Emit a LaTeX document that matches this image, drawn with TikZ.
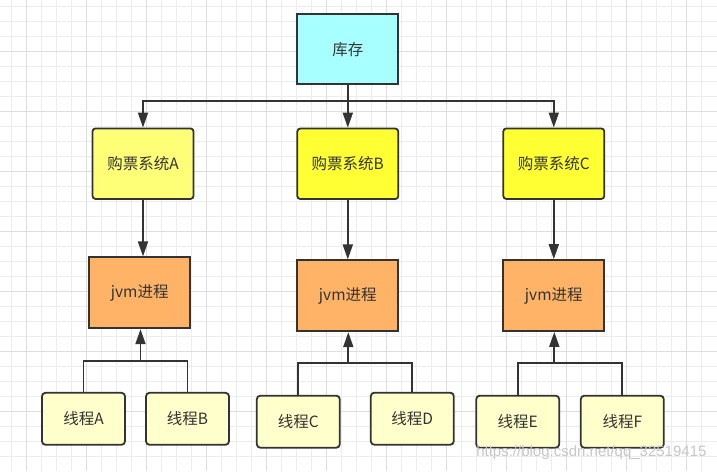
\documentclass[tikz,border=0pt]{standalone}
\usepackage{fontspec}
\setmainfont{Noto Sans CJK SC}
\usetikzlibrary{arrows.meta}
\definecolor{kccyan}{HTML}{A8FFFF}
\definecolor{gpyellowA}{HTML}{FFFF77}
\definecolor{gpyellow}{HTML}{FFFF33}
\definecolor{jvmorange}{HTML}{FFB366}
\definecolor{xccream}{HTML}{FFFFCC}
\definecolor{linegray}{HTML}{333333}
\tikzset{
  box/.style={draw=linegray,line width=1.8pt,text=linegray,
    font=\fontsize{15.5}{18}\selectfont,inner sep=0pt},
  kcbox/.style={box,fill=kccyan,minimum width=101pt,minimum height=70pt},
  gpbox/.style={box,fill=gpyellow,rounded corners=3pt,minimum width=101pt,minimum height=70.5pt},
  jvmbox/.style={box,fill=jvmorange,minimum width=101pt,minimum height=71pt},
  xcbox/.style={box,fill=xccream,rounded corners=3.5pt,minimum width=83pt,minimum height=52pt},
  conn/.style={draw=linegray,line width=1.8pt},
  minor/.style={draw=black!7,line width=0.8pt},
  major/.style={draw=black!13,line width=0.8pt}
}
\begin{document}
\begin{tikzpicture}[x=1pt,y=-1pt,>={Triangle[width=10pt,length=15pt]}]
  \useasboundingbox[fill=white] (0,0) rectangle (717,471);
  % grid
  \foreach \x in {11.7,26.7,...,716} \draw[minor] (\x,0) -- (\x,471);
  \foreach \y in {6.7,21.7,...,470} \draw[minor] (0,\y) -- (717,\y);
  \foreach \x in {26.7,86.7,...,716} \draw[major] (\x,0) -- (\x,471);
  \foreach \y in {51.7,111.7,...,470} \draw[major] (0,\y) -- (717,\y);

  \node[kcbox] (kc) at (347.8,49.2) {库存};

  \node[gpbox,fill=gpyellowA] (gpA) at (143,163.7) {购票系统A};
  \node[gpbox] (gpB) at (347.8,163.8) {购票系统B};
  \node[gpbox] (gpC) at (553.8,163.7) {购票系统C};

  \node[jvmbox] (jvmA) at (139.7,292.8) {jvm进程};
  \node[jvmbox] (jvmB) at (347.8,295.8) {jvm进程};
  \node[jvmbox] (jvmC) at (553.8,295.5) {jvm进程};

  \node[xcbox] (xcA) at (83.5,418.8) {线程A};
  \node[xcbox] (xcB) at (187.5,418.8) {线程B};
  \node[xcbox] (xcC) at (298.3,421.7) {线程C};
  \node[xcbox] (xcD) at (412.3,418.7) {线程D};
  \node[xcbox] (xcE) at (517.7,421.7) {线程E};
  \node[xcbox] (xcF) at (622.3,421.7) {线程F};

  \coordinate (top) at (347.8,101);
  \coordinate (jA) at (140.5,360.7);
  \coordinate (jB) at (348.3,362.7);
  \coordinate (jC) at (554.3,363.3);

  \draw[conn] (kc) -- (top);
  \draw[conn,->] (top) -| (gpA);
  \draw[conn,->] (top) -- (gpB);
  \draw[conn,->] (top) -| (gpC);

  \draw[conn,->] (gpA.south) -- (gpA.south |- jvmA.north);
  \draw[conn,->] (gpB) -- (jvmB);
  \draw[conn,->] (gpC) -- (jvmC);

  \draw[conn] (xcA) |- (jA) -| (xcB);
  \draw[conn,->] (jA) -- (jA |- jvmA.south);
  \draw[conn] (xcC) |- (jB) -| (xcD);
  \draw[conn,->] (jB) -- (jB |- jvmB.south);
  \draw[conn] (xcE) |- (jC) -| (xcF);
  \draw[conn,->] (jC) -- (jC |- jvmC.south);

  \node[text=black!22,font=\fontspec{Liberation Sans}\fontsize{15}{17}\selectfont,anchor=east] (wm) at (710,453) {https://blog.csdn.net/qq\_32519415};
\end{tikzpicture}
\end{document}
